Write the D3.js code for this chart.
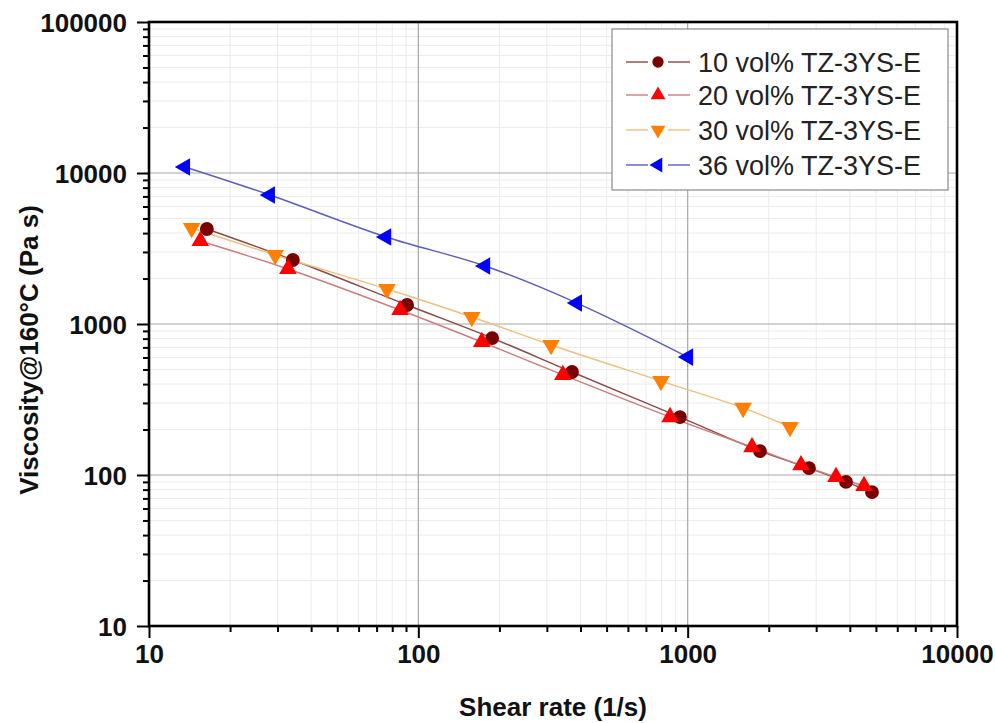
<!DOCTYPE html>
<html>
<head>
<meta charset="utf-8">
<script src="https://cdn.jsdelivr.net/npm/d3@7"></script>
<style>
  body { margin: 0; background: #fff; }
  text { font-family: "Liberation Sans", Arial, sans-serif; }
</style>
</head>
<body>
<div id="chart"></div>
<script>
// values
var seriesNames = ["10 vol% TZ-3YS-E", "20 vol% TZ-3YS-E", "30 vol% TZ-3YS-E", "36 vol% TZ-3YS-E"];
var rate10 = [16.4, 34.2, 90.8, 188, 372, 936, 1856, 2822, 3872, 4835];
var visc10 = [4257, 2654, 1336, 807, 481, 242, 144, 111, 90, 77];
var rate20 = [15.5, 32.8, 85.5, 172, 344, 860, 1733, 2635, 3554, 4515];
var visc20 = [3546, 2314, 1238, 760, 460, 242, 153, 116, 97, 84.6];
var rate30 = [14.4, 29.4, 76.5, 158, 311, 796, 1606, 2399];
var visc30 = [4323, 2864, 1705, 1113, 726, 419, 278, 208];
var rate36 = [13.6, 28.1, 75.9, 177, 388, 1003];
var visc36 = [10957, 7150, 3769, 2422, 1377, 604];
var xTicks = [10, 100, 1000, 10000];
var yTicks = [10, 100, 1000, 10000, 100000];

var markColor = ["#7a0000", "#ff0000", "#ff8000", "#0000ff"];
var lineColor = ["#8a4a4a", "#cc7c7c", "#ecc080", "#5c5cbc"];
var symbolType = [d3.symbolCircle, d3.symbolTriangle, d3.symbolTriangle, d3.symbolTriangle];
var symbolRot = [0, 0, 180, -90];

var series = [
  {rate: rate10, visc: visc10},
  {rate: rate20, visc: visc20},
  {rate: rate30, visc: visc30},
  {rate: rate36, visc: visc36}
];

var width = 995, height = 723;
// plot box (careful: "top" is taken by window.top)
var pL = 149, pR = 957, pT = 22, pB = 626;

var svg = d3.select("#chart").append("svg")
  .attr("width", width)
  .attr("height", height);

var x = d3.scaleLog().domain([10, 10000]).range([pL, pR]);
var y = d3.scaleLog().domain([10, 100000]).range([pB, pT]);

// minor values 2..9 per decade
function minors(lo, hi) {
  var out = [];
  for (var d = lo; d < hi; d *= 10) {
    for (var k = 2; k <= 9; k++) out.push(d * k);
  }
  return out;
}
var xMinor = minors(10, 10000);
var yMinor = minors(10, 100000);

// grid
var grid = svg.append("g");
grid.selectAll(".xmg").data(xMinor).enter().append("line")
  .attr("x1", function(d) { return x(d); }).attr("x2", function(d) { return x(d); })
  .attr("y1", pT).attr("y2", pB)
  .style("stroke", "#ececec").style("stroke-width", 1);
grid.selectAll(".ymg").data(yMinor).enter().append("line")
  .attr("y1", function(d) { return y(d); }).attr("y2", function(d) { return y(d); })
  .attr("x1", pL).attr("x2", pR)
  .style("stroke", "#ececec").style("stroke-width", 1);
grid.selectAll(".xg").data(xTicks).enter().append("line")
  .attr("x1", function(d) { return x(d); }).attr("x2", function(d) { return x(d); })
  .attr("y1", pT).attr("y2", pB)
  .style("stroke", "#a8a8a8").style("stroke-width", 1.2);
grid.selectAll(".yg").data(yTicks).enter().append("line")
  .attr("y1", function(d) { return y(d); }).attr("y2", function(d) { return y(d); })
  .attr("x1", pL).attr("x2", pR)
  .style("stroke", "#a8a8a8").style("stroke-width", 1.2);

// axes
var fmt = d3.format("d");
var xAxis = svg.append("g").attr("transform", "translate(0," + pB + ")")
  .call(d3.axisBottom(x).tickValues(xTicks).tickFormat(fmt).tickSize(12).tickPadding(6));
var xAxisMinor = svg.append("g").attr("transform", "translate(0," + pB + ")")
  .call(d3.axisBottom(x).tickValues(xMinor).tickFormat("").tickSize(6));
var yAxis = svg.append("g").attr("transform", "translate(" + pL + ",0)")
  .call(d3.axisLeft(y).tickValues(yTicks).tickFormat(fmt).tickSize(12).tickPadding(10));
var yAxisMinor = svg.append("g").attr("transform", "translate(" + pL + ",0)")
  .call(d3.axisLeft(y).tickValues(yMinor).tickFormat("").tickSize(6));

[xAxis, xAxisMinor, yAxis, yAxisMinor].forEach(function(a) {
  a.select(".domain").remove();
  a.selectAll(".tick line").style("stroke", "#000").style("stroke-width", 2);
  a.selectAll(".tick text")
    .style("font-size", "26px").style("font-weight", "bold").style("fill", "#111")
    .style("font-family", "'Liberation Sans', Arial, sans-serif");
});
yAxis.selectAll(".tick text").attr("dy", "0.36em");
xAxis.selectAll(".tick text").attr("dy", "0.72em");

// lines + markers
var line = d3.line()
  .x(function(d) { return x(d[0]); })
  .y(function(d) { return y(d[1]); })
  .curve(d3.curveCatmullRom);

var plot = svg.append("g");
series.forEach(function(s, i) {
  var pts = s.rate.map(function(r, j) { return [r, s.visc[j]]; });
  plot.append("path")
    .attr("d", line(pts))
    .style("fill", "none")
    .style("stroke", lineColor[i])
    .style("stroke-width", 1.4);
});
series.forEach(function(s, i) {
  var pts = s.rate.map(function(r, j) { return [r, s.visc[j]]; });
  var sym = d3.symbol().type(symbolType[i]).size(i == 0 ? 150 : 135);
  plot.selectAll(".m" + i).data(pts).enter().append("path")
    .attr("d", sym)
    .attr("transform", function(d) {
      return "translate(" + x(d[0]) + "," + y(d[1]) + ") rotate(" + symbolRot[i] + ")";
    })
    .style("fill", markColor[i]);
});

// frame
svg.append("rect")
  .attr("x", pL).attr("y", pT)
  .attr("width", pR - pL).attr("height", pB - pT)
  .style("fill", "none").style("stroke", "#000").style("stroke-width", 2.6);

// axis titles
svg.append("text")
  .attr("x", 553).attr("y", 716)
  .attr("text-anchor", "middle")
  .style("font-size", "26px").style("font-weight", "bold").style("fill", "#111")
  .text("Shear rate (1/s)");
svg.append("text")
  .attr("transform", "translate(38,350) rotate(-90)")
  .attr("text-anchor", "middle")
  .style("font-size", "26px").style("font-weight", "bold").style("fill", "#111")
  .text("Viscosity@160°C (Pa s)");

// legend
var legend = svg.append("g");
legend.append("rect")
  .attr("x", 612).attr("y", 29).attr("width", 336).attr("height", 161)
  .style("fill", "#fff").style("stroke", "#8a8a8a").style("stroke-width", 1.2);
var rowY = [62, 95, 130, 165];
seriesNames.forEach(function(name, i) {
  var g = legend.append("g").attr("transform", "translate(0," + rowY[i] + ")");
  g.append("line").attr("x1", 626).attr("x2", 648).attr("y1", 0).attr("y2", 0)
    .style("stroke", lineColor[i]).style("stroke-width", 1.4);
  g.append("line").attr("x1", 668).attr("x2", 690).attr("y1", 0).attr("y2", 0)
    .style("stroke", lineColor[i]).style("stroke-width", 1.4);
  g.append("path")
    .attr("d", d3.symbol().type(symbolType[i]).size(i == 0 ? 100 : 95))
    .attr("transform", "translate(658,0) rotate(" + symbolRot[i] + ")")
    .style("fill", markColor[i]);
  g.append("text")
    .attr("x", 698).attr("y", 0).attr("dy", "0.36em")
    .style("font-size", "27px").style("fill", "#222")
    .text(name);
});
</script>
</body>
</html>
